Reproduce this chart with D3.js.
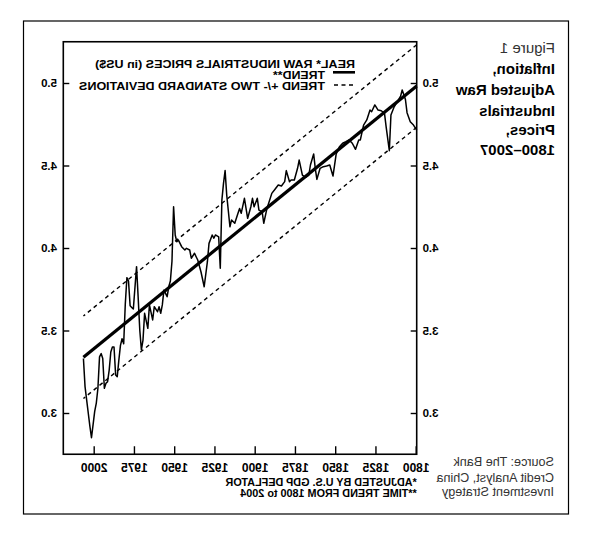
<!DOCTYPE html>
<html>
<head>
<meta charset="utf-8">
<script src="https://cdn.jsdelivr.net/npm/d3@7"></script>
<style>
  body { margin: 0; background: #fff; }
  svg { display: block; }
</style>
</head>
<body>
<script>
// real raw industrials prices, log scale reading, 1800-2007
const years = [
  1800, 1802, 1804, 1806, 1807, 1809, 1810, 1812, 1814, 1816, 1817, 1819, 1820, 1822, 1824,
  1826, 1828, 1829, 1831, 1833, 1835, 1836, 1838, 1840, 1842, 1844, 1846, 1848, 1850, 1852,
  1854, 1856, 1858, 1860, 1862, 1863, 1864, 1866, 1867, 1869, 1871, 1873, 1874, 1876, 1878,
  1879, 1881, 1882, 1884, 1886, 1888, 1890, 1892, 1893, 1895, 1896, 1898, 1899, 1901, 1902,
  1903, 1905, 1907, 1909, 1910, 1911, 1913, 1915, 1916, 1918, 1919, 1920, 1921, 1922, 1923,
  1925, 1926, 1927, 1929, 1930, 1932, 1934, 1936, 1937, 1938, 1940, 1941, 1943, 1944, 1946,
  1948, 1949, 1950, 1951, 1952, 1953, 1954, 1955, 1957, 1958, 1959, 1960, 1961, 1963, 1964,
  1966, 1967, 1969, 1970, 1971, 1972, 1973, 1974, 1975, 1976, 1977, 1978, 1979, 1980, 1981,
  1982, 1983, 1984, 1985, 1986, 1987, 1988, 1989, 1990, 1991, 1992, 1993, 1994, 1995, 1996,
  1997, 1998, 1999, 2000, 2001, 2002, 2003, 2004, 2005, 2006, 2007
]
const prices = [
  4.715, 4.745, 4.765, 4.82, 4.90, 4.958, 4.92, 4.887, 4.856, 4.806, 4.59, 4.735, 4.816, 4.832, 4.836,
  4.867, 4.826, 4.836, 4.776, 4.745, 4.655, 4.655, 4.598, 4.635, 4.655, 4.644, 4.635, 4.614, 4.570, 4.436,
  4.503, 4.497, 4.493, 4.483, 4.416, 4.483, 4.570, 4.503, 4.442, 4.428, 4.442, 4.533, 4.483, 4.412, 4.412,
  4.402, 4.469, 4.402, 4.376, 4.382, 4.356, 4.331, 4.27, 4.240, 4.150, 4.220, 4.230, 4.301, 4.250, 4.301,
  4.250, 4.180, 4.301, 4.210, 4.240, 4.210, 4.150, 4.170, 4.129, 4.321, 4.469, 4.392, 4.291, 3.877, 4.068,
  4.079, 4.059, 4.079, 4.028, 3.917, 3.765, 3.856, 3.927, 3.947, 3.968, 3.938, 3.988, 3.998, 3.988, 4.008,
  4.048, 4.038, 4.079, 4.250, 3.92, 3.80, 3.765, 3.705, 3.745, 3.655, 3.604, 3.644, 3.614, 3.644, 3.564,
  3.655, 3.513, 3.604, 3.442, 3.382, 3.503, 3.70, 3.887, 3.76, 3.63, 3.64, 3.65, 3.80, 3.82, 3.66,
  3.42, 3.45, 3.41, 3.32, 3.22, 3.23, 3.40, 3.40, 3.37, 3.26, 3.19, 3.18, 3.15, 3.33, 3.36,
  3.34, 3.15, 3.06, 3.01, 2.93, 2.85, 2.92, 3.00, 3.08, 3.16, 3.33
]
const trendYears = [1800, 2007]
const trendValues = [4.982, 3.338]
const twoSd = 0.25

const xTicks = [1800, 1825, 1850, 1875, 1900, 1925, 1950, 1975, 2000]
const yTicks = [3.0, 3.5, 4.0, 4.5, 5.0]

const legendLabels = ["REAL* RAW INDUSTRIALS PRICES (in US$)", "TREND**", "TREND +/- TWO STANDARD DEVIATIONS"]
const notes = ["*ADJUSTED BY U.S. GDP DEFLATOR", "**TIME TREND FROM 1800 to 2004"]
const titleLines = ["Figure 1", "Inflation,", "Adjusted Raw", "Industrials", "Prices,", "1800\u20132007"]
const sourceLines = ["Source: The Bank", "Credit Analyst, China", "Investment Strategy"]

const W = 593, H = 536
const font = "'Liberation Sans', Arial, Helvetica, sans-serif"

const svg = d3.select("body").append("svg")
    .attr("width", W)
    .attr("height", H)
    .attr("xmlns", "http://www.w3.org/2000/svg")

svg.append("rect")
    .attr("width", W)
    .attr("height", H)
    .style("fill", "white")

// the reference is a mirror image, so everything is drawn normally and flipped
const g = svg.append("g")
    .attr("transform", `translate(${W},0) scale(-1,1)`)
    .style("font-family", font)

// outer frame
g.append("rect")
    .attr("x", 24.5)
    .attr("y", 21)
    .attr("width", 545)
    .attr("height", 493)
    .style("fill", "none")
    .style("stroke", "black")
    .style("stroke-width", 1.2)

const plot = { left: 176.3, right: 529.7, top: 41.75, bottom: 454.25 }

const x = d3.scaleLinear().domain([1800, 2019.5]).range([plot.left, plot.right])
const y = d3.scaleLinear().domain([2.75, 5.25]).range([plot.bottom, plot.top])

// axes, ticks point inward
const xAxis = g.append("g")
    .attr("transform", `translate(0,${plot.bottom})`)
    .call(d3.axisBottom(x).tickValues(xTicks).tickFormat(d3.format("d"))
      .tickSizeInner(-8).tickSizeOuter(0).tickPadding(9.2))
const yLeft = g.append("g")
    .attr("transform", `translate(${plot.left},0)`)
    .call(d3.axisLeft(y).tickValues(yTicks).tickFormat(d3.format(".1f"))
      .tickSizeInner(-6).tickSizeOuter(0).tickPadding(5.8))
const yRight = g.append("g")
    .attr("transform", `translate(${plot.right},0)`)
    .call(d3.axisRight(y).tickValues(yTicks).tickFormat(d3.format(".1f"))
      .tickSizeInner(-6).tickSizeOuter(0).tickPadding(6.3))

;[xAxis, yLeft, yRight].forEach(a => {
  a.select(".domain").remove()
  a.selectAll(".tick line").style("stroke", "black").style("stroke-width", 1.4)
  a.selectAll("text")
      .style("font-family", font)
      .style("font-weight", "bold")
      .style("fill", "black")
})
xAxis.selectAll("text").style("font-size", "12px")
yLeft.selectAll("text").style("font-size", "11.5px")
yRight.selectAll("text").style("font-size", "11.5px")

// plot box
g.append("rect")
    .attr("x", plot.left)
    .attr("y", plot.top)
    .attr("width", plot.right - plot.left)
    .attr("height", plot.bottom - plot.top)
    .style("fill", "none")
    .style("stroke", "black")
    .style("stroke-width", 1.6)

const trend = trendYears.map((yr, i) => ({ year: yr, value: trendValues[i] }))
const line = d3.line().x(d => x(d.year)).y(d => y(d.value))

;[twoSd, -twoSd].forEach(off => {
  g.append("path")
      .datum(trend.map(d => ({ year: d.year, value: d.value + off })))
      .attr("d", line)
      .style("fill", "none")
      .style("stroke", "black")
      .style("stroke-width", 1.4)
      .style("stroke-dasharray", "4,3.5")
})

g.append("path")
    .datum(years.map((yr, i) => ({ year: yr, value: prices[i] })))
    .attr("d", line)
    .style("fill", "none")
    .style("stroke", "black")
    .style("stroke-width", 1.5)
    .style("stroke-linejoin", "round")

g.append("path")
    .datum(trend)
    .attr("d", line)
    .style("fill", "none")
    .style("stroke", "black")
    .style("stroke-width", 3.2)

// legend: wide, tight lettering, so the glyphs are stretched to the read widths
const legend = g.append("g").style("font-size", "10px").style("font-weight", "bold")
const legendRows = [
  { x: 238, y: 67.8, w: 260 },
  { x: 268, y: 79, w: 52 },
  { x: 268, y: 90, w: 246 }
]
legendRows.forEach((r, i) => {
  legend.append("text")
      .attr("x", r.x)
      .attr("y", r.y)
      .attr("textLength", r.w)
      .attr("lengthAdjust", "spacingAndGlyphs")
      .text(legendLabels[i])
})
legend.append("line")
    .attr("x1", 238).attr("x2", 260).attr("y1", 72.3).attr("y2", 72.3)
    .style("stroke", "black").style("stroke-width", 2.6)
legend.append("line")
    .attr("x1", 240).attr("x2", 262).attr("y1", 85).attr("y2", 85)
    .style("stroke", "black").style("stroke-width", 1.4).style("stroke-dasharray", "4,3.5")

// footnotes under the axis
notes.forEach((t, i) => {
  g.append("text")
      .attr("x", plot.left)
      .attr("y", 486 + i * 11)
      .style("font-size", "10.8px")
      .style("font-weight", "bold")
      .text(t)
})

// caption
const titleY = [53.3, 74.3, 95, 115.7, 135, 155]
titleLines.forEach((t, i) => {
  g.append("text")
      .attr("x", 38)
      .attr("y", titleY[i])
      .style("font-size", "15px")
      .style("font-weight", i === 0 ? "normal" : "bold")
      .style("fill", i === 0 ? "#333" : "black")
      .text(t)
})

const sourceY = [466, 482, 496]
sourceLines.forEach((t, i) => {
  g.append("text")
      .attr("x", 39)
      .attr("y", sourceY[i])
      .style("font-size", "12.6px")
      .style("fill", "#333")
      .text(t)
})
</script>
</body>
</html>
